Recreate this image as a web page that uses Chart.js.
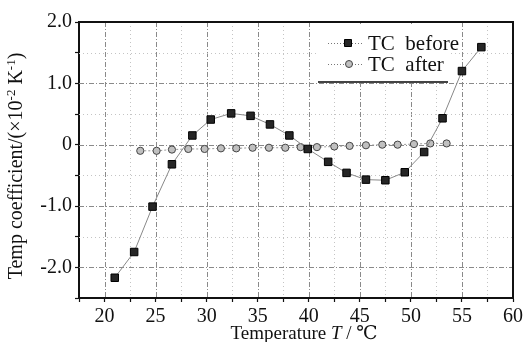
<!DOCTYPE html>
<html>
<head>
<meta charset="utf-8">
<script src="https://cdn.jsdelivr.net/npm/chart.js"></script>
<style>
  body { margin: 0; padding: 0; background: #fff; }
  .wrap { width: 527px; height: 342px; }
</style>
</head>
<body>
<div class="wrap"><canvas id="tc"></canvas></div>
<script>
// values
const tempBefore = [21.0, 22.9, 24.7, 26.6, 28.6, 30.4, 32.4, 34.3, 36.2, 38.1, 39.9, 41.9, 43.7, 45.6, 47.5, 49.4, 51.3, 53.1, 55.0, 56.9];
const tcBefore   = [-2.17, -1.75, -1.01, -0.32, 0.15, 0.41, 0.51, 0.47, 0.33, 0.15, -0.07, -0.28, -0.46, -0.57, -0.58, -0.45, -0.12, 0.43, 1.20, 1.59];
const tempAfter  = [23.5, 25.1, 26.6, 28.2, 29.8, 31.4, 32.9, 34.5, 36.1, 37.7, 39.2, 40.8, 42.5, 44.0, 45.6, 47.2, 48.7, 50.3, 51.9, 53.5];
const tcAfter    = [-0.10, -0.10, -0.08, -0.07, -0.07, -0.06, -0.06, -0.05, -0.05, -0.05, -0.04, -0.04, -0.03, -0.02, -0.01, 0.00, 0.00, 0.01, 0.02, 0.02];

const seriesNames = ['TC  before', 'TC  after'];
const xTickValues = [20, 25, 30, 35, 40, 45, 50, 55, 60];
const yTickValues = [2, 1, 0, -1, -2];
const yTickLabels = ['2.0', '1.0', '0', '-1.0', '-2.0'];

const serif = "'Liberation Serif', 'DejaVu Serif', serif";

// draws a row of [text, font, raise] pieces starting at x
function drawPieces(ctx, parts, x, y) {
  parts.forEach(p => {
    ctx.font = p[1];
    ctx.fillText(p[0], x, y - (p[2] || 0));
    x += ctx.measureText(p[0]).width;
  });
}
function piecesWidth(ctx, parts) {
  let w = 0;
  parts.forEach(p => { ctx.font = p[1]; w += ctx.measureText(p[0]).width; });
  return w;
}

// dashed major / dotted minor grid inside the plot
const gridPlugin = {
  id: 'grid2',
  beforeDatasetsDraw(chart) {
    const { ctx, chartArea: a, scales: { x, y } } = chart;
    ctx.save();
    ctx.lineWidth = 1;
    for (let v = 20; v < 60; v += 2.5) {
      const major = v % 5 === 0;
      const px = Math.round(x.getPixelForValue(v)) + 0.5;
      ctx.strokeStyle = major ? '#8a8a8a' : '#c4c4c4';
      ctx.setLineDash(major ? [5, 2, 1, 2] : [1, 3]);
      ctx.beginPath(); ctx.moveTo(px, a.top); ctx.lineTo(px, a.bottom); ctx.stroke();
    }
    for (let v = -2; v < 2; v += 0.5) {
      const major = v % 1 === 0;
      const py = Math.round(y.getPixelForValue(v)) + 0.5;
      ctx.strokeStyle = major ? '#8a8a8a' : '#c4c4c4';
      ctx.setLineDash(major ? [5, 2, 1, 2] : [1, 3]);
      ctx.beginPath(); ctx.moveTo(a.left, py); ctx.lineTo(a.right, py); ctx.stroke();
    }
    // white box behind legend
    ctx.fillStyle = '#fff';
    ctx.fillRect(318, a.top + 2, 132, 82 - a.top - 2);
    ctx.restore();
  }
};

// frame, legend and axis titles
const decoPlugin = {
  id: 'deco',
  afterDraw(chart) {
    const { ctx, chartArea: a } = chart;
    ctx.save();
    ctx.strokeStyle = '#111';
    ctx.setLineDash([]);
    ctx.lineWidth = 2;
    ctx.beginPath();
    ctx.moveTo(a.left, a.top); ctx.lineTo(a.right, a.top); ctx.lineTo(a.right, a.bottom);
    ctx.stroke();

    // legend
    const rows = [
      { y: 43, ds: chart.data.datasets[0] },
      { y: 64, ds: chart.data.datasets[1] }
    ];
    rows.forEach(r => {
      ctx.strokeStyle = '#777';
      ctx.lineWidth = 1;
      ctx.setLineDash([1, 2]);
      ctx.beginPath(); ctx.moveTo(328, r.y + 0.5); ctx.lineTo(364, r.y + 0.5); ctx.stroke();
      ctx.setLineDash([]);
      ctx.fillStyle = r.ds.pointBackgroundColor;
      ctx.strokeStyle = r.ds.pointBorderColor;
      ctx.beginPath();
      if (r.ds.pointStyle === 'rect') ctx.rect(344.5, r.y - 3.5, 7, 7);
      else ctx.arc(349, r.y, 3.5, 0, Math.PI * 2);
      ctx.fill(); ctx.stroke();
      ctx.fillStyle = '#111';
      ctx.font = '21px ' + serif;
      ctx.textBaseline = 'middle';
      ctx.textAlign = 'left';
      ctx.fillText(r.ds.label, 368, r.y + 1);
    });
    ctx.strokeStyle = '#444';
    ctx.lineWidth = 2;
    ctx.beginPath(); ctx.moveTo(318, 82); ctx.lineTo(448, 82); ctx.stroke();

    ctx.fillStyle = '#111';
    ctx.textBaseline = 'alphabetic';
    ctx.textAlign = 'left';

    // x title with italic T
    const xParts = [
      ['Temperature ', '19px ' + serif],
      ['T', 'italic 19px ' + serif],
      [' / ℃', '19px ' + serif]
    ];
    drawPieces(ctx, xParts, 304 - piecesWidth(ctx, xParts) / 2, 339);

    // y title with raised exponents
    const yParts = [
      ['Temp coefficient/(×10', '20px ' + serif],
      ['-2', '13px ' + serif, 7],
      [' K', '20px ' + serif],
      ['-1', '13px ' + serif, 7],
      [')', '20px ' + serif]
    ];
    ctx.translate(22, 166);
    ctx.rotate(-Math.PI / 2);
    drawPieces(ctx, yParts, -piecesWidth(ctx, yParts) / 2, 0);
    ctx.restore();
  }
};

new Chart(document.getElementById('tc'), {
  type: 'line',
  data: {
    datasets: [
      {
        label: seriesNames[0],
        data: tempBefore.map((t, i) => ({ x: t, y: tcBefore[i] })),
        borderColor: '#888',
        borderWidth: 1,
        pointStyle: 'rect',
        pointRadius: 5.3,
        pointBackgroundColor: '#262626',
        pointBorderColor: '#000',
        pointBorderWidth: 1,
        tension: 0
      },
      {
        label: seriesNames[1],
        data: tempAfter.map((t, i) => ({ x: t, y: tcAfter[i] })),
        borderColor: '#999',
        borderWidth: 1,
        borderDash: [2, 2],
        pointStyle: 'circle',
        pointRadius: 3.6,
        pointBackgroundColor: '#c0c0c0',
        pointBorderColor: '#444',
        pointBorderWidth: 1,
        tension: 0
      }
    ]
  },
  options: {
    responsive: true,
    maintainAspectRatio: false,
    animation: false,
    layout: { padding: { top: 22, right: 14, left: 0, bottom: 0 } },
    plugins: { legend: { display: false }, tooltip: { enabled: false } },
    scales: {
      x: {
        type: 'linear',
        min: 17.5,
        max: 60,
        afterFit: s => { s.height = 44; },
        ticks: {
          stepSize: 2.5,
          autoSkip: false,
          maxRotation: 0,
          padding: 3,
          color: '#111',
          font: { family: serif, size: 20 },
          callback: v => xTickValues.includes(v) ? String(v) : ''
        },
        grid: { drawOnChartArea: false, tickLength: 4, tickColor: '#111', tickWidth: 1.2 },
        border: { color: '#111', width: 2 }
      },
      y: {
        type: 'linear',
        min: -2.5,
        max: 2,
        afterFit: s => { s.width = 79; },
        ticks: {
          stepSize: 0.5,
          autoSkip: false,
          padding: 3,
          color: '#111',
          font: { family: serif, size: 20 },
          callback: v => {
            const i = yTickValues.indexOf(v);
            return i >= 0 ? yTickLabels[i] : '';
          }
        },
        grid: { drawOnChartArea: false, tickLength: 4, tickColor: '#111', tickWidth: 1.2 },
        border: { color: '#111', width: 2 }
      }
    }
  },
  plugins: [gridPlugin, decoPlugin]
});
</script>
</body>
</html>
